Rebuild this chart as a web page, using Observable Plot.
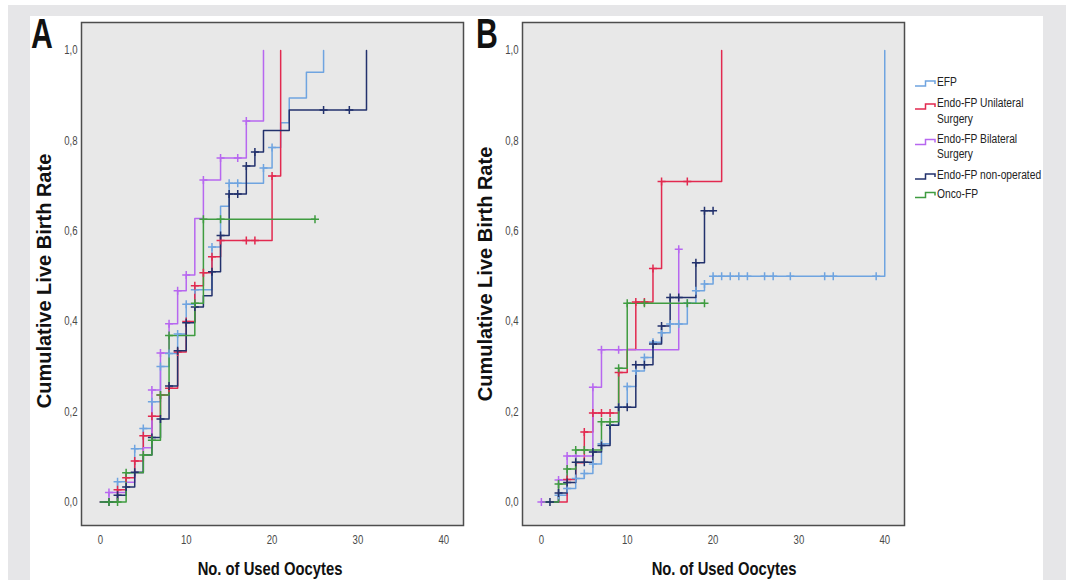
<!DOCTYPE html>
<html><head><meta charset="utf-8">
<script src="https://cdn.jsdelivr.net/npm/d3@7"></script>
<script src="https://cdn.jsdelivr.net/npm/@observablehq/plot@0.6"></script>
<style>
body{margin:0;background:#fff;width:1066px;height:580px;position:relative;overflow:hidden;font-family:"Liberation Sans",Arial,sans-serif;}
.abs{position:absolute;}
</style></head><body>
<div class="abs" style="left:8px;top:5px;width:1058px;height:575px;background:#e6e6e8"></div>
<div class="abs" style="left:30px;top:16px;width:1013px;height:564px;background:#fff"></div>
<div id="panelA" class="abs" style="left:0;top:0"></div>
<div id="panelB" class="abs" style="left:470px;top:0"></div>
<svg id="overlay" class="abs" style="left:0;top:0;pointer-events:none" width="1066" height="580"></svg>
<script>
// ---- groups ----
const groups = ["EFP", "Endo-FP Unilateral Surgery", "Endo-FP Bilateral Surgery", "Endo-FP non-operated", "Onco-FP"];
const colors = ["#6fa4e0", "#e2294f", "#b767f0", "#22316c", "#3f9c40"];
const legendLines = [["EFP"], ["Endo-FP Unilateral", "Surgery"], ["Endo-FP Bilateral", "Surgery"], ["Endo-FP non-operated"], ["Onco-FP"]];
const panelLetters = ["A", "B"];
const yTitle = "Cumulative Live Birth Rate";
const xTitle = "No. of Used Oocytes";
const xTicks = [0, 10, 20, 30, 40];
const yTicks = [0, 0.2, 0.4, 0.6, 0.8, 1.0];

// ---- Panel A ----
const a_efp_x = [0, 2, 3, 4, 5, 6, 7, 8, 9, 10, 11, 13, 14, 15, 19, 20, 21, 22, 24, 26];
const a_efp_y = [0, 0.045, 0.065, 0.118, 0.163, 0.222, 0.30, 0.329, 0.372, 0.438, 0.47, 0.565, 0.655, 0.706, 0.74, 0.785, 0.84, 0.895, 0.952, 1.0];
const a_efp_c = [2, 4, 5, 6, 7, 8, 9, 10, 11, 13, 15, 16, 19, 20];

const a_uni_x = [0, 2, 3, 4, 5, 6, 7, 8, 9, 10, 11, 12, 13, 14, 20, 21];
const a_uni_y = [0, 0.027, 0.054, 0.091, 0.147, 0.19, 0.237, 0.252, 0.332, 0.40, 0.479, 0.508, 0.543, 0.579, 0.722, 1.0];
const a_uni_c = [2, 3, 4, 5, 6, 7, 8, 9, 10, 11, 12, 13, 14, 17, 18, 20];

const a_bil_x = [0, 1, 3, 4, 5, 6, 7, 8, 9, 10, 11, 12, 14, 17, 19];
const a_bil_y = [0, 0.021, 0.044, 0.065, 0.12, 0.248, 0.33, 0.395, 0.468, 0.503, 0.628, 0.713, 0.762, 0.844, 1.0];
const a_bil_c = [1, 6, 7, 8, 9, 10, 12, 14, 16, 17];

const a_non_x = [0, 2, 3, 4, 5, 6, 7, 8, 9, 10, 11, 12, 13, 14, 15, 17, 18, 19, 22, 31];
const a_non_y = [0, 0.015, 0.033, 0.066, 0.104, 0.143, 0.184, 0.257, 0.335, 0.397, 0.432, 0.457, 0.51, 0.59, 0.682, 0.744, 0.775, 0.823, 0.868, 1.0];
const a_non_c = [1, 2, 3, 4, 6, 7, 8, 9, 10, 11, 13, 14, 15, 16, 17, 18, 26, 29];

const a_onc_x = [0, 3, 5, 6, 7, 8, 11, 12, 25];
const a_onc_y = [0, 0.065, 0.104, 0.137, 0.237, 0.369, 0.44, 0.626, 0.626];
const a_onc_c = [1, 2, 3, 5, 6, 7, 8, 11, 12, 14, 25];

// ---- Panel B ----
const b_efp_x = [0, 2, 3, 4, 5, 6, 7, 8, 9, 10, 11, 12, 13, 14, 15, 17, 18, 19, 20, 40];
const b_efp_y = [0, 0.015, 0.03, 0.052, 0.063, 0.084, 0.129, 0.17, 0.21, 0.256, 0.29, 0.32, 0.354, 0.375, 0.394, 0.44, 0.468, 0.483, 0.50, 1.0];
const b_efp_c = [2, 3, 4, 5, 6, 7, 9, 10, 11, 12, 13, 14, 15, 16, 17, 18, 19, 20, 21, 22, 23, 24, 26, 27, 29, 33, 34, 39];

const b_uni_x = [0, 3, 4, 5, 6, 9, 10, 11, 13, 14, 21];
const b_uni_y = [0, 0.05, 0.087, 0.155, 0.197, 0.287, 0.338, 0.443, 0.517, 0.71, 1.0];
const b_uni_c = [3, 5, 6, 7, 8, 9, 11, 12, 13, 14, 17];

const b_bil_x = [0, 2, 3, 6, 7, 16];
const b_bil_y = [0, 0.049, 0.102, 0.254, 0.337, 0.56];
const b_bil_c = [0, 2, 3, 4, 6, 7, 9, 16];

const b_non_x = [0, 2, 3, 4, 6, 7, 8, 9, 11, 13, 14, 15, 18, 19, 20];
const b_non_y = [0, 0.02, 0.043, 0.088, 0.111, 0.125, 0.17, 0.21, 0.304, 0.35, 0.39, 0.453, 0.53, 0.645, 0.645];
const b_non_c = [1, 2, 3, 4, 5, 6, 7, 8, 9, 10, 11, 12, 13, 14, 15, 16, 18, 19, 20];

const b_onc_x = [0, 2, 3, 4, 7, 9, 10, 19];
const b_onc_y = [0, 0.04, 0.073, 0.115, 0.178, 0.296, 0.44, 0.44];
const b_onc_c = [2, 3, 4, 5, 7, 8, 9, 10, 12, 17, 19];

// ---- build tables ----
function steps(xs, ys, g) { return xs.map((x, i) => ({x, y: ys[i], g})); }
function cens(cs, xs, ys, g) { return cs.map(c => ({x: c, y: ys[Math.max(0, d3.bisectRight(xs, c) - 1)], g})); }
function build(list) {
  const lines = [], marks = [];
  list.forEach(([xs, ys, cs], i) => { lines.push(...steps(xs, ys, groups[i])); marks.push(...cens(cs, xs, ys, groups[i])); });
  return {lines, marks};
}
const dataA = build([[a_efp_x, a_efp_y, a_efp_c], [a_uni_x, a_uni_y, a_uni_c], [a_bil_x, a_bil_y, a_bil_c], [a_non_x, a_non_y, a_non_c], [a_onc_x, a_onc_y, a_onc_c]]);
const dataB = build([[b_efp_x, b_efp_y, b_efp_c], [b_uni_x, b_uni_y, b_uni_c], [b_bil_x, b_bil_y, b_bil_c], [b_non_x, b_non_y, b_non_c], [b_onc_x, b_onc_y, b_onc_c]]);

const plus = {draw(ctx, size) { const r = Math.sqrt(size / Math.PI); ctx.moveTo(-r, 0); ctx.lineTo(r, 0); ctx.moveTo(0, -r); ctx.lineTo(0, r); }};
const sans = '"Liberation Sans",Arial,sans-serif';

// horizontally condense a text element in place (emulates a narrow face)
function condense(el, k) {
  const w = el.getComputedTextLength();
  if (w > 0) { el.setAttribute("textLength", (w * k).toFixed(2)); el.setAttribute("lengthAdjust", "spacingAndGlyphs"); }
}

function panel(d, width, ml, mr) {
  return Plot.plot({
    width, height: 580, marginLeft: ml, marginRight: mr, marginTop: 22, marginBottom: 55,
    style: {background: "transparent", fontFamily: sans, fontSize: "12px", color: "#4a4a4a", overflow: "visible"},
    x: {domain: [-2.2, 42.3], ticks: xTicks, tickSize: 0, tickPadding: 10, label: null},
    y: {domain: [-0.052, 1.062], ticks: yTicks, tickSize: 0, tickPadding: 4, label: null, tickFormat: v => v.toFixed(1).replace(".", ",")},
    color: {domain: groups, range: colors},
    marks: [
      Plot.frame({fill: "#e8e8e8"}),
      Plot.line(d.lines, {x: "x", y: "y", z: "g", stroke: "g", curve: "step-after", strokeWidth: 1.5}),
      Plot.dot(d.marks, {x: "x", y: "y", stroke: "g", symbol: plus, r: 4, strokeWidth: 1.5, fill: "none"}),
      Plot.frame({stroke: "#4d4d4d", strokeWidth: 1.5})
    ]
  });
}
const svgA = panel(dataA, 470, 81, 7), svgB = panel(dataB, 440, 52, 6);
document.getElementById("panelA").append(svgA);
document.getElementById("panelB").append(svgB);
[svgA, svgB].forEach(s => d3.select(s).selectAll("text").each(function() { condense(this, 0.8); }));

// ---- overlay texts & legend ----
const ov = d3.select("#overlay");
[[31, 48], [476, 48]].forEach(([x, y], i) => {
  ov.append("text").attr("x", x).attr("y", y).attr("font-family", sans).attr("font-weight", "bold")
    .attr("font-size", 42).attr("fill", "#111").text(panelLetters[i]).each(function() { condense(this, 0.72); });
});
[[50.5, 281], [492, 274]].forEach(([x, y]) => {
  ov.append("text").attr("transform", `translate(${x},${y}) rotate(-90)`).attr("text-anchor", "middle")
    .attr("font-family", sans).attr("font-weight", "bold").attr("font-size", 20).attr("fill", "#111").text(yTitle);
});
[270, 724].forEach(x => {
  ov.append("text").attr("x", x).attr("y", 575).attr("text-anchor", "middle").attr("font-family", sans)
    .attr("font-weight", "bold").attr("font-size", 18.5).attr("fill", "#111").text(xTitle)
    .each(function() { condense(this, 0.8); });
});
const baselines = [86, 107, 142.5, 179, 197.5];
legendLines.forEach((lines, i) => {
  const b = baselines[i];
  const hi = lines.length > 1 ? b - 3 : b - 5, lo = lines.length > 1 ? b + 2 : b;
  ov.append("path").attr("d", `M915,${lo}H925.5V${hi}H935V${hi + 3}`).attr("fill", "none").attr("stroke", colors[i]).attr("stroke-width", 1.5);
  lines.forEach((t, j) => {
    ov.append("text").attr("x", 937).attr("y", b + j * 15.5).attr("font-family", sans).attr("font-size", 12.5)
      .attr("fill", "#222").text(t).each(function() { condense(this, 0.82); });
  });
});
</script>
</body></html>
